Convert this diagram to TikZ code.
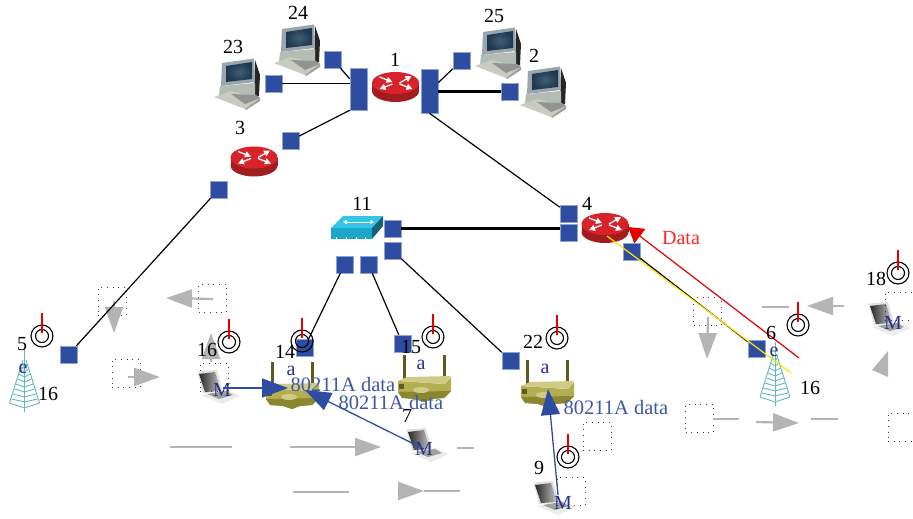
\documentclass[tikz,border=0pt]{standalone}
\usepackage{fontspec}
\setmainfont{Liberation Serif}
\usetikzlibrary{arrows.meta}
\definecolor{portblue}{HTML}{2E4DA0}
\definecolor{portedge}{HTML}{8FA3D6}
\definecolor{linkblue}{HTML}{2F4CA3}
\definecolor{textblue}{HTML}{3F57A6}
\definecolor{navy}{HTML}{2A3188}
\definecolor{packetgray}{HTML}{B4B4B4}
\definecolor{routertop}{HTML}{D9232B}
\definecolor{routerside}{HTML}{A31C20}
\definecolor{towerteal}{HTML}{62B8BA}
\definecolor{olivetop}{HTML}{CFCB87}
\definecolor{olivefront}{HTML}{B3AE50}
\definecolor{olivelow}{HTML}{8A8730}
\definecolor{olivedark}{HTML}{5C5C20}
\definecolor{dotbrown}{HTML}{4A3040}
\definecolor{swtop}{HTML}{35C3E8}
\definecolor{swfront}{HTML}{1AA7C9}
\definecolor{swside}{HTML}{14617A}
\definecolor{pcframe}{HTML}{9AA5AD}
\definecolor{pcscreen}{HTML}{1E3850}
\definecolor{pcglow}{HTML}{3F5F75}
\definecolor{pcbase}{HTML}{B5BCB5}
\definecolor{pckeys}{HTML}{C7CBC0}
\tikzset{
    port/.style={rectangle,fill=portblue,draw=portedge,line width=0.5pt,inner sep=0pt,minimum size=17pt},
    numlabel/.style={inner sep=0pt,font=\fontsize{20}{20}\selectfont},
    letter/.style={inner sep=0pt,text=navy,font=\fontsize{20}{20}\selectfont},
    datalabel/.style={inner sep=0pt,text=textblue,font=\fontsize{20.5}{20.5}\selectfont},
    dotbox/.style={rectangle,draw=dotbrown,line width=0.9pt,dash pattern=on 0.9pt off 4.8pt,inner sep=0pt,minimum size=28pt},
    wire/.style={black,line width=1.2pt},
    fatwire/.style={black,line width=2.2pt},
    packet/.style={packetgray,line width=2.2pt,-{Triangle[length=26pt,width=18pt]}},
    bluelink/.style={linkblue,line width=1.3pt,-{Triangle[length=26pt,width=19pt]}},
    router/.pic={
        \fill[routerside] (-23.5,-4) rectangle (23.5,4);
        \fill[routerside] (0,4) ellipse [x radius=23.5,y radius=11];
        \fill[routertop] (0,-4) ellipse [x radius=23.5,y radius=11];
        \begin{scope}[white,line width=1.3pt,-{Triangle[length=6pt,width=6pt]}]
            \draw (-16,-10) -- (-3,-5);
            \draw (4,-4) -- (16,-11);
            \draw (-3,-3) -- (-16,2);
            \draw (4,-3) -- (17,2);
        \end{scope}
    },
    pc/.pic={
        \fill[black!85] (41,2) -- (46,17) -- (45,38) -- (40,40) -- cycle;
        \fill[pcframe] (8,5) -- (40,0.5) -- (41,24) -- (7,28) -- cycle;
        \shade[inner color=pcglow,outer color=pcscreen] (12,8) -- (38,4) -- (38,21) -- (12,24) -- cycle;
        \fill[pcbase] (6,28) -- (41,25) -- (41,38) -- (5,38) -- cycle;
        \fill[pckeys] (0,39) -- (17,33) -- (46,40) -- (31,51) -- cycle;
        \fill[gray!85] (17,36) -- (42,37) -- (46,40) -- (31,46) -- cycle;
        \fill[gray!75] (31,51) -- (46,40) -- (46,43) -- (32,52) -- cycle;
    },
    laptop/.pic={
        \fill[gray!25] (0.5,1.5) -- (20,0) -- (26,22) -- (6,23) -- cycle;
        \shade[left color=black!85,right color=gray!45] (2,4) -- (18,2) -- (24,21) -- (8,22) -- cycle;
        \fill[gray!15] (4,25) -- (30,20) -- (43,26) -- (25,34) -- cycle;
        \fill[gray!75] (10,24) -- (29,21) -- (36,25) -- (22,29) -- cycle;
    },
    accesspoint/.pic={
        \draw[olivedark,line width=3pt] (7,1) -- (7,27);
        \draw[olivedark,line width=3pt] (47,1) -- (47,25);
        \fill[olivefront] (1,27) -- (48,30) -- (54,23) -- (54,37) -- (47,44) -- (35,45) -- (27,48) -- (18,45) -- (5,44) -- (1,38) -- cycle;
        \fill[olivelow] (1,38) -- (54,37) -- (47,44) -- (35,45) -- (27,48) -- (18,45) -- (5,44) -- cycle;
        \fill[olivetop] (1,27) -- (10,23) -- (54,22) -- (48,30) -- cycle;
        \fill[olivetop] (24,36) ellipse [x radius=8,y radius=3];
        \fill[olivedark] (2,30) rectangle (7,35);
    },
    tower/.pic={
        \begin{scope}[towerteal,line width=0.9pt]
            \draw (0,0) -- (0,64);
            \draw (-1.5,12) -- (-15,55) (1.5,12) -- (15,55);
            \draw (-15,55) -- (0,60) -- (15,55);
            \foreach \rung/\wd in {16/2.5,21/4,26/5.5,31/7,36/8.5,41/10,46/11.5,51/13}
                \draw (-\wd,\rung) -- (0,\rung+3) -- (\wd,\rung);
        \end{scope}
    },
    antenna/.pic={
        \draw[black,line width=1.1pt] (0,0) circle [radius=11];
        \draw[black,line width=1.1pt] (0,0) circle [radius=6.5];
        \draw[red!90!black,line width=1.6pt] (0,-23) -- (0,-3);
    },
    netswitch/.pic={
        \fill[swtop] (0,12) -- (12,0) -- (52,0) -- (41,12) -- cycle;
        \fill[swfront] (0,12) rectangle (41,23);
        \fill[swside] (41,12) -- (52,0) -- (52,10) -- (41,23) -- cycle;
        \draw[white,line width=1pt,{Triangle[length=3.5pt,width=4pt]}-{Triangle[length=3.5pt,width=4pt]}] (12,6) -- (43,6);
        \draw[white,line width=1pt] (5,23) -- (5,21) (15,23) -- (15,21) (25,23) -- (25,21) (34,23) -- (34,21);
    }
}
\begin{document}
\begin{tikzpicture}[x=1pt,y=-1pt]
    \useasboundingbox (0,0) rectangle (913,519);

    \pic at (395.5,87) {router};
    \pic at (254,161.5) {router};
    \pic at (605,228) {router};
    \pic at (214,58) {pc};
    \pic at (274,24) {pc};
    \pic at (475,27) {pc};
    \pic at (520,66) {pc};
    \pic at (197,370) {laptop};
    \pic at (406,428) {laptop};
    \pic at (533,481) {laptop};
    \pic at (868,302) {laptop};
    \pic at (265,361) {accesspoint};
    \pic at (397,354) {accesspoint};
    \pic at (520,359) {accesspoint};
    \pic at (24.5,348) {tower};
    \pic at (775,342) {tower};
    \pic at (331,216) {netswitch};

    \begin{scope}[every node/.style={dotbox}]
        \node (box1) at (112,301) {};
        \node (box2) at (212.5,298) {};
        \node (box3) at (126,373) {};
        \node (box4) at (214,377) {};
        \node (box5) at (707.5,311) {};
        \node (box6) at (597,436) {};
        \node (box7) at (571,491) {};
        \node (box8) at (699.5,418) {};
        \node (box9) at (899,306) {};
        \node (box10) at (902,427) {};
    \end{scope}

    \foreach \id/\fx/\fy/\tx/\ty in {1/213/299/166/298,2/114/301/114/333,3/128/377/160/377,4/211/362/211/333,5/290/447/381/447,6/708/317/707/359,7/844/306/807/306,8/756/422/799/423,9/398/491/424/491} {
        \coordinate (tail\id) at (\fx,\fy);
        \coordinate (head\id) at (\tx,\ty);
        \draw[packet] (tail\id) -- (head\id);
    }
    \foreach \id/\fx/\fy/\tx/\ty in {1/170/447/232/447,2/457/448/474/448,3/293/492/349/492,4/424/491/460/491,5/762/307/789/307,6/713/419/739/419,7/811/419/838/419} {
        \coordinate (dashA\id) at (\fx,\fy);
        \coordinate (dashB\id) at (\tx,\ty);
        \draw[packetgray,line width=2.2pt] (dashA\id) -- (dashB\id);
    }
    \fill[packetgray] (888,351) -- (872,370) -- (888,377) -- cycle;

    \begin{scope}[every node/.style={port}]
        \node[minimum height=42pt] (hubL) at (358.5,89) {};
        \node[minimum height=44pt] (hubR) at (429.5,91) {};
        \node (p24) at (333,59.5) {};
        \node (p23) at (273.5,83.5) {};
        \node (p3) at (290.5,140.5) {};
        \node (p25) at (461.5,60.5) {};
        \node (p2) at (509.5,91.5) {};
        \node (p3low) at (218.5,189.5) {};
        \node (p5) at (68.5,354.5) {};
        \node (pswA) at (392.5,228.5) {};
        \node (pswB) at (392.5,250.5) {};
        \node (pswC) at (344.5,264.5) {};
        \node (pswD) at (368.5,264.5) {};
        \node (p14) at (304.5,347.5) {};
        \node (p15) at (402.5,343.5) {};
        \node (p22) at (510.5,360.5) {};
        \node (p4a) at (568.5,213.5) {};
        \node (p4b) at (568.5,232.5) {};
        \node (p4c) at (631.5,251.5) {};
        \node (p6) at (756.5,348.5) {};
    \end{scope}

    \begin{scope}
        \path[wire] (p23) edge (p23 -| hubL.west);
        \path[wire] (p24) edge (hubL);
        \path[wire] (p3) edge (hubL.south west);
        \path[wire] (hubR) edge (p25);
        \path[fatwire] (hubR.east |- p2) edge (p2);
        \path[wire] (hubR.south) edge (p4a);
        \path[wire] (p3low) edge (p5);
        \path[fatwire] (pswA) edge (pswA -| p4b.west);
        \path[wire] (pswB) edge (p22);
        \path[wire] (pswC) edge (p14);
        \path[wire] (pswD) edge (p15);
        \path[wire] (p4c) edge (p6);
    \end{scope}

    \coordinate (yellowA) at (607,236);
    \coordinate (yellowB) at (791,373);
    \draw[yellow!90!orange,line width=1.2pt] (yellowA) -- (yellowB);
    \coordinate (redA) at (799,358);
    \coordinate (redB) at (628,227);
    \draw[red!90!black,line width=1.2pt,-{Triangle[length=15pt,width=18pt]}] (redA) -- (redB);

    \pic at (42,336) {antenna};
    \pic at (229,342) {antenna};
    \pic at (302,341) {antenna};
    \pic at (433,337) {antenna};
    \pic at (557,338) {antenna};
    \pic at (798,325) {antenna};
    \pic at (898,273) {antenna};
    \pic at (568,457) {antenna};

    \begin{scope}[every node/.style={numlabel}]
        \node (n24) at (298,13) {24};
        \node (n23) at (233,47) {23};
        \node (n1) at (395,60) {1};
        \node (n25) at (494,16) {25};
        \node (n2) at (534,56) {2};
        \node (n3) at (240,128) {3};
        \node (n11) at (362,204) {11};
        \node (n4) at (587,204) {4};
        \node (n18) at (876,279) {18};
        \node (n6) at (771,333) {6};
        \node (n5) at (22,344) {5};
        \node (n16a) at (48,394) {16};
        \node (n16b) at (207,350) {16};
        \node (n16c) at (810,388) {16};
        \node (n14) at (285,352) {14};
        \node (n15) at (411,347) {15};
        \node (n22) at (533,342) {22};
        \node (n7) at (407,416) {7};
        \node (n9) at (539,468) {9};
        \node[text=red!85!white] (ndata) at (681,238) {Data};
    \end{scope}

    \begin{scope}[every node/.style={letter}]
        \node (m16) at (222,390) {M};
        \node (m7) at (424,449) {M};
        \node (m9) at (563,503) {M};
        \node (m18) at (893,323) {M};
        \node (a14) at (291,371) {a};
        \node (a15) at (421,365) {a};
        \node (a22) at (545,369) {a};
        \node (e5) at (23,369) {e};
        \node (e6) at (774,352) {e};
    \end{scope}

    \begin{scope}[every node/.style={datalabel}]
        \node (d14) at (343,384) {80211A data};
        \node (d15) at (391,402) {80211A data};
        \node (d22) at (616,407) {80211A data};
    \end{scope}

    \coordinate (tipA) at (288,388);
    \coordinate (tipB) at (305,390);
    \coordinate (tipC) at (548,389);
    \draw[bluelink,line width=1.9pt] (m16.east) ++(-8,-2) -- (tipA);
    \draw[bluelink] (m7.center) -- (tipB);
    \draw[bluelink] (m9.center) ++(-5,-8) -- (tipC);
\end{tikzpicture}
\end{document}
